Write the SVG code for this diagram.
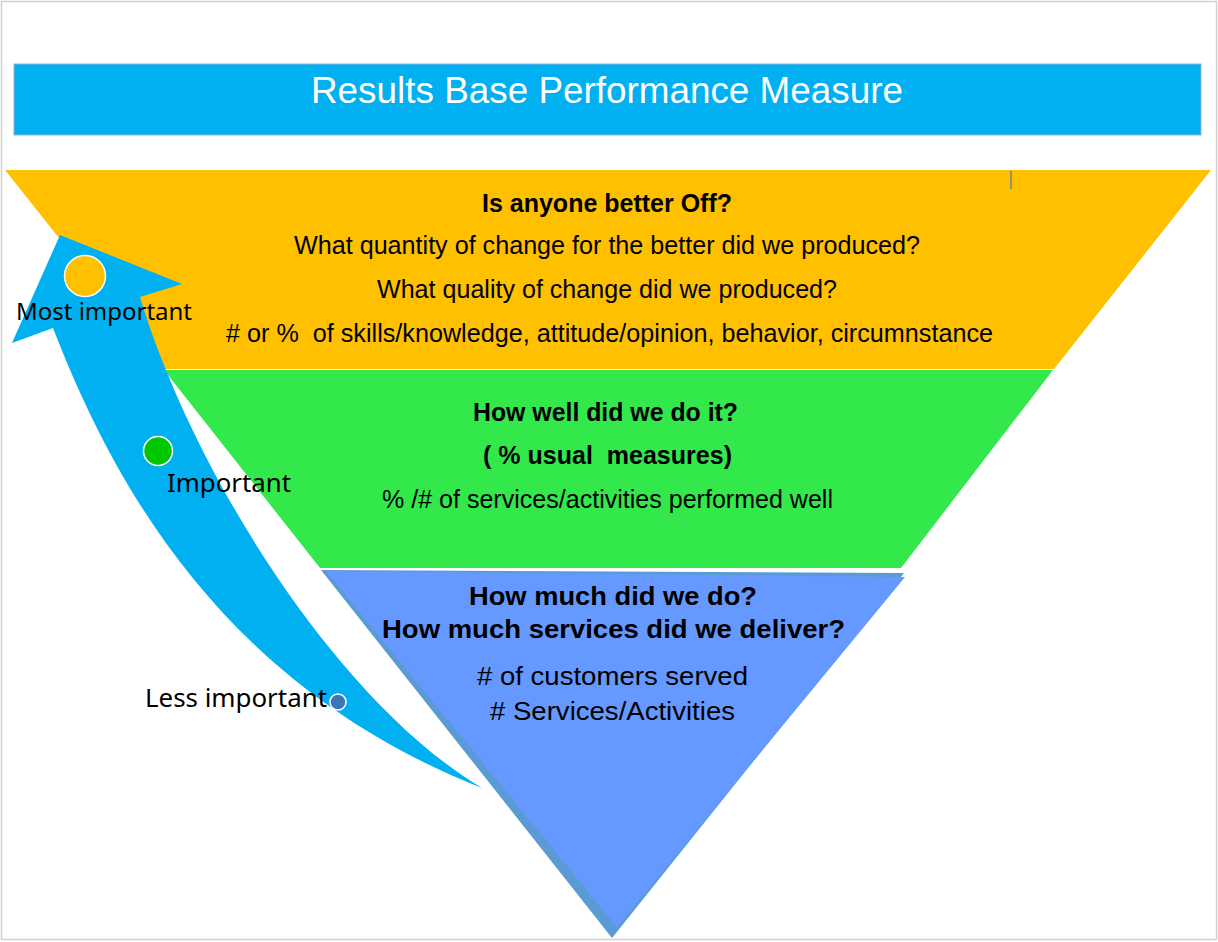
<svg xmlns="http://www.w3.org/2000/svg" width="1218" height="942" viewBox="0 0 1218 942">
<style>
.t{font-family:"Liberation Sans",Arial,sans-serif;font-size:25px;fill:#000;text-anchor:middle;white-space:pre}
.b{font-weight:bold}
.q{font-size:26px}
.lbl{font-family:"Noto Sans","Open Sans",sans-serif;fill:#000}
.dot{stroke:#fff;stroke-width:1.5}
</style>
<rect x="0" y="0" width="1218" height="942" fill="#fff"/>
<rect x="1.5" y="1.5" width="1215" height="938" fill="none" stroke="#d0d0d0" stroke-width="1.5"/>
<g id="title">
<rect x="14" y="64" width="1187" height="71" fill="#00b0f0" stroke="#8eb4e3" stroke-width="1"/>
<text x="607" y="103" textLength="592" lengthAdjust="spacingAndGlyphs" style="font-family:'Liberation Sans',Arial,sans-serif;font-size:37px;fill:#fff;text-anchor:middle">Results Base Performance Measure</text>
</g>
<g id="outcome">
<polygon points="5,170 1211,170 1054,369 163,369" fill="#ffc000"/>
<line x1="1011" y1="171" x2="1011" y2="189" stroke="#4472c4" stroke-width="1.2"/>
<text class="t b" x="607" y="212" textLength="250" lengthAdjust="spacingAndGlyphs">Is anyone better Off?</text>
<text class="t" x="607" y="254" textLength="626" lengthAdjust="spacingAndGlyphs">What quantity of change for the better did we produced?</text>
<text class="t" x="607" y="298" textLength="460" lengthAdjust="spacingAndGlyphs">What quality of change did we produced?</text>
<text class="t" x="609.5" y="342" textLength="767" lengthAdjust="spacingAndGlyphs"># or %  of skills/knowledge, attitude/opinion, behavior, circumnstance</text>
</g>
<g id="quality">
<polygon points="164,370 1053,370 901,568 320,568" fill="#32e84b"/>
<text class="t b" x="605.5" y="421" textLength="265" lengthAdjust="spacingAndGlyphs">How well did we do it?</text>
<text class="t b" x="607.5" y="464" textLength="249" lengthAdjust="spacingAndGlyphs">( % usual  measures)</text>
<text class="t" x="607.5" y="508" textLength="451" lengthAdjust="spacingAndGlyphs">% /# of services/activities performed well</text>
</g>
<g id="quantity">
<polygon points="321,570 904,573 612,938" fill="#5b9bd5"/>
<polygon points="326,571 905,577 617,927" fill="#6699ff"/>
<text class="t b q" x="613" y="605" textLength="288" lengthAdjust="spacingAndGlyphs">How much did we do?</text>
<text class="t b q" x="613.5" y="638" textLength="463" lengthAdjust="spacingAndGlyphs">How much services did we deliver?</text>
<text class="t q" x="612.5" y="685" textLength="271" lengthAdjust="spacingAndGlyphs"># of customers served</text>
<text class="t q" x="612.5" y="720" textLength="245" lengthAdjust="spacingAndGlyphs"># Services/Activities</text>
</g>
<g id="connectors">
<path id="importance-arrow" d="M60,235 L182,284 L140,297 C192,470 335,700 482,788 C220,685 112,480 53,328 L12,343 Z" fill="#00b0f0"/>
</g>
<g id="most-important">
<circle class="dot" cx="85" cy="276" r="20.5" fill="#ffc000"/>
<text class="lbl" x="16" y="320" font-size="23" textLength="176" lengthAdjust="spacingAndGlyphs">Most important</text>
</g>
<g id="important">
<circle class="dot" cx="158" cy="451" r="14.5" fill="#00c800"/>
<text class="lbl" x="167" y="492" font-size="25" textLength="124" lengthAdjust="spacingAndGlyphs">Important</text>
</g>
<g id="less-important">
<text class="lbl" x="145" y="707" font-size="25" textLength="182" lengthAdjust="spacingAndGlyphs">Less important</text>
<circle class="dot" cx="338" cy="702" r="8" fill="#3a76b8"/>
</g>
</svg>
